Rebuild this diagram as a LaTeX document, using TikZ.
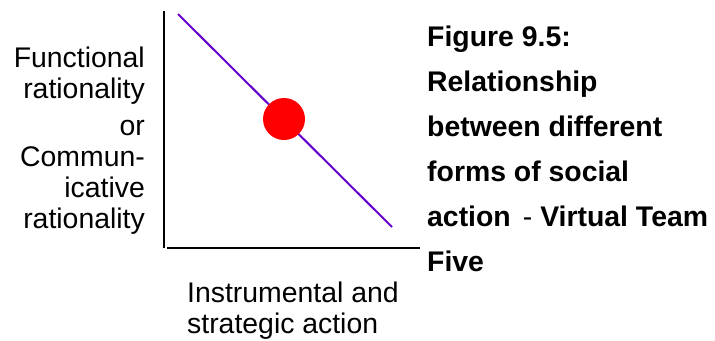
\documentclass[tikz,border=0pt]{standalone}
\usepackage{fontspec}
\setmainfont{Liberation Sans}
\definecolor{linepurple}{RGB}{102,0,204}
\tikzset{
  axis/.style={line width=2.5bp, black},
  label/.style={inner sep=0pt, font=\fontsize{28.5}{31}\selectfont},
}
\begin{document}
\begin{tikzpicture}[x=1bp, y=-1bp]
  \useasboundingbox (0,0) rectangle (715,340);
  % axes
  \coordinate (top) at (164,11);
  \coordinate (origin) at (164,248);
  \coordinate (right) at (420,248);
  \draw[axis] (top) -- (origin);
  \draw[axis] ([xshift=3bp]origin) -- (right);
  % diagonal with the dot on it
  \coordinate (start) at (178,14);
  \coordinate (end) at (392,227);
  \draw[linepurple, line width=2bp] (start) -- (end);
  \node[circle, fill=red, minimum size=42bp, inner sep=0pt] (dot) at (284,119) {};
  % \node[circle, draw, minimum size=42bp] at (284,119) {};
  \node[label, align=right, anchor=north east] (yname) at (145,47)
    {Functional\\ rationality\\[6bp] or\hspace*{13bp}\\ Commun-\\ icative\\ rationality};
  \node[label, align=left, anchor=north west] (xname) at (187,282)
    {Instrumental and\\ strategic action};
  \node[label, align=left, anchor=north west, font=\fontsize{28.5}{45.2}\selectfont\bfseries] (caption) at (427,26)
    {Figure 9.5:\\ Relationship\\ between different\\ forms of social\\
     action\hspace{12bp}{\mdseries -}\hspace{8bp}Virtual Team\\ Five};
\end{tikzpicture}
\end{document}
